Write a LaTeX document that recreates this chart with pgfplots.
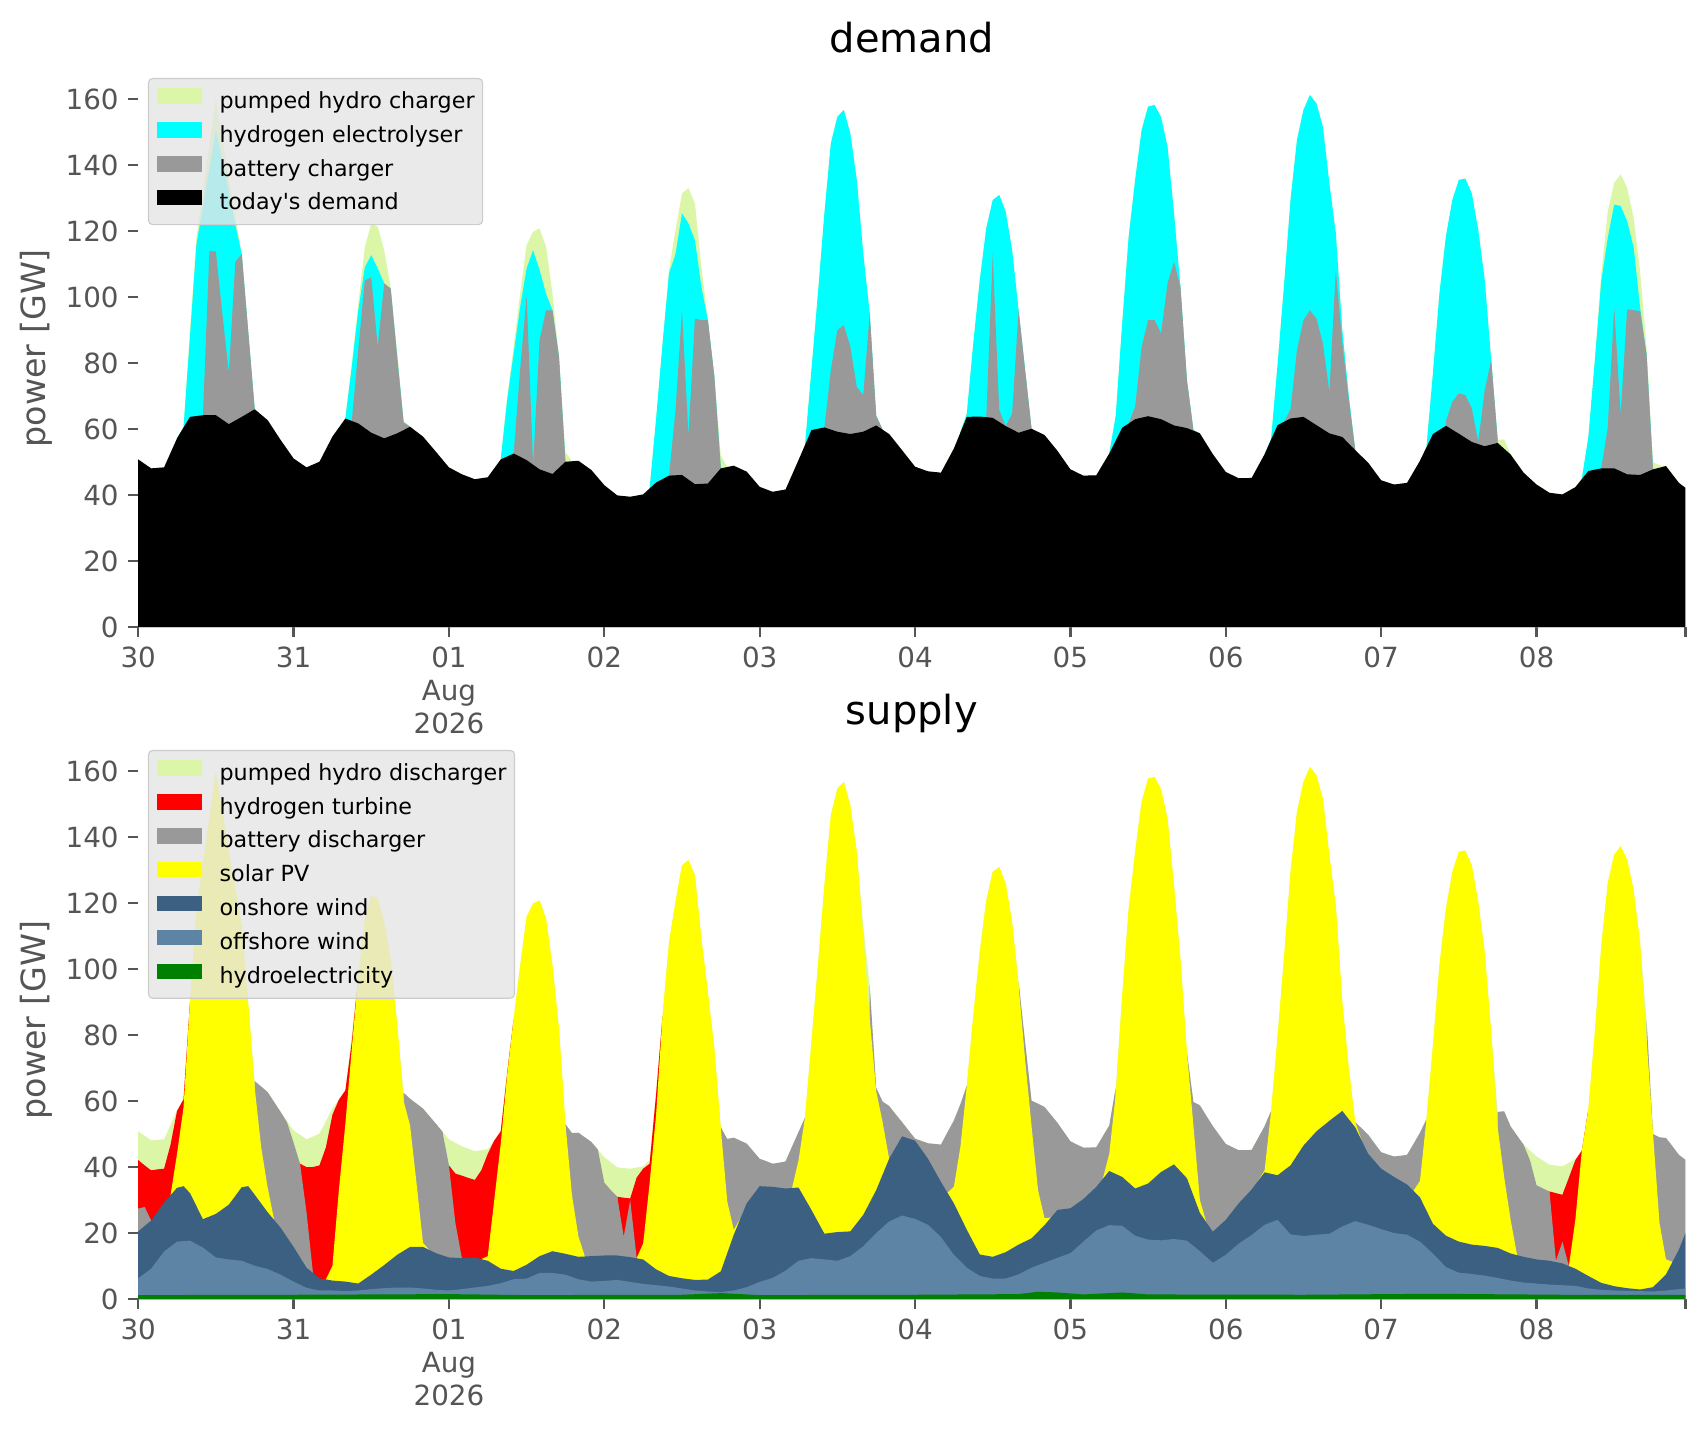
\documentclass[border=0pt]{standalone}
\usepackage{fontspec}
\setmainfont{DejaVu Sans}
\usepackage{pgfplots}
\pgfplotsset{compat=1.18}
\definecolor{phg}{RGB}{218,246,166}
\definecolor{cyn}{RGB}{0,255,255}
\definecolor{batt}{RGB}{153,153,153}
\definecolor{sol}{RGB}{255,255,0}
\definecolor{onw}{RGB}{59,96,130}
\definecolor{offw}{RGB}{93,131,165}
\definecolor{hydro}{RGB}{0,128,0}
\definecolor{tickgray}{RGB}{85,85,85}
\definecolor{leggray}{RGB}{229,229,229}
\definecolor{legedge}{RGB}{204,204,204}
\pgfplotsset{
  myaxis/.style={
    scale only axis, width=557pt, height=200.8pt,
    xmin=0, xmax=239, ymin=0, ymax=169,
    axis line style={draw=none},
    tick align=outside, tick pos=left,
    major tick length=3.5pt,
    every tick/.style={tickgray, line width=0.8pt},
    xtick={0,24,48,72,96,120,144,168,192,216,239},
    xticklabels={30,31,{01\\Aug\\2026},02,03,04,05,06,07,08,{}},
    ytick={0,20,40,60,80,100,120,140,160},
    /pgf/number format/assume math mode=true,
    ticklabel style={font=\fontsize{10}{12}\selectfont, text=tickgray},
    xticklabel style={align=center},
    every axis title/.style={at={(rel axis cs:0.5,1)}, anchor=base, yshift=6pt, font=\fontsize{14.4}{17}\selectfont},
    every axis y label/.style={at={(rel axis cs:-0.066,0.5)}, rotate=90, anchor=center, font=\fontsize{12}{14}\selectfont, text=tickgray},
    ylabel={power [GW]},
    legend style={at={(rel axis cs:0,1)}, anchor=north west, xshift=3.5pt, yshift=-3.1pt,
      fill=leggray, fill opacity=0.8, text opacity=1, draw=legedge, rounded corners=1.5pt,
      font=\fontsize{8}{9.6}\selectfont, inner xsep=2.9pt, inner ysep=3.5pt, row sep=3.2pt,
      nodes={inner sep=0pt, text height=6pt, text depth=1.8pt},
      /tikz/every odd column/.append style={column sep=6.5pt}},
    legend cell align=left,
    legend image code/.code={\fill[#1, fill opacity=1, sharp corners] (0pt,-0.5pt) rectangle (16.2pt,5.1pt);},
  }
}
\begin{document}
\begin{tikzpicture}
\useasboundingbox (0,0) rectangle (614.16pt,515.16pt);
% ================= DEMAND =================
\begin{axis}[myaxis, at={(49.75pt,289.4pt)}, anchor=south west, title={demand}]
% total (pumped hydro charger top)
\addplot[fill=phg, draw=none] coordinates {(0,50.8) (2,48.1) (4,48.4) (6,57.2) (7,60.5) (8,90) (9,118) (10,132) (11,146) (12,160) (13,147.6) (14,135.5) (15,124.6) (16,113) (17,89.5) (18,66) (20,62.7) (22,56.7) (24,51.1) (26,48.4) (28,50.1) (30,57.7) (32,63.2) (33,80) (34,98) (35,115) (36,122.3) (37,121.3) (38,114.2) (39,103) (40,83.5) (41,62.5) (42,60.7) (44,57.7) (46,53.1) (48,48.4) (50,46.3) (52,44.8) (54,45.4) (56,50.8) (57,69.8) (58,84.9) (59,101) (60,115.8) (61,119.8) (62,120.8) (63,115.3) (64,101) (65,81.9) (66,53) (67,50.3) (68,50.4) (70,47.6) (72,43) (74,39.9) (76,39.5) (78,40.2) (79,42) (80,63) (81,85.9) (82,108.2) (83,120.3) (84,131.4) (85,133) (86,128.4) (87,109.2) (88,93) (89,75.9) (90,52) (91,48.5) (92,48.9) (94,47.1) (96,42.5) (98,41) (100,41.7) (102,50.6) (103,55) (104,78) (105,101) (106,125.4) (107,146.6) (108,154.6) (109,156.7) (110,149.6) (111,135.5) (112,113.2) (113,95) (114,64) (115,59.8) (116,58.5) (118,53.6) (120,48.6) (122,47.2) (124,46.8) (126,54.1) (127,59) (128,64.7) (129,86) (130,105.1) (131,120.8) (132,129.4) (133,130.9) (134,125.9) (135,114.2) (136,96) (137,77.9) (138,60.1) (140,58.2) (142,53.4) (144,47.8) (146,45.9) (148,46) (150,52.6) (151,64) (152,92) (153,118.3) (154,135.5) (155,150.6) (156,157.7) (157,158.2) (158,154.5) (159,145.6) (160,125.4) (161,103) (162,74.8) (163,59.7) (164,58.7) (166,52.4) (168,47) (170,45.1) (172,45.2) (174,52.4) (175,57) (176,79.5) (177,103.6) (178,129.4) (179,147.6) (180,156.7) (181,161.2) (182,158.7) (183,151.6) (184,134.4) (185,119.3) (186,90) (187,70) (188,53.6) (190,49.8) (192,44.5) (194,43.2) (196,43.7) (198,50.4) (199,54.5) (200,76.9) (201,101) (202,118.3) (203,129.4) (204,135.5) (205,135.9) (206,131.4) (207,120.3) (208,105.1) (209,80.9) (210,56.7) (211,56.9) (212,52.3) (214,46.8) (216,43.2) (218,40.7) (220,40.2) (222,42.4) (223,45) (224,57.4) (225,80.6) (226,106.9) (227,126) (228,134.6) (229,137.2) (230,133.1) (231,124) (232,107.9) (233,84.6) (234,50) (235,49) (236,48.8) (238,43.7) (239,42.2)} \closedcycle;
\addlegendentry{pumped hydro charger}
% hydrogen electrolyser top
\addplot[fill=cyn, draw=none] coordinates {(0,0) (6,0) (6,57.2) (7,60.5) (8,88) (9,116) (10,127.4) (11,139) (12,150.6) (13,141.5) (14,132) (15,122) (16,113) (17,89.5) (18,66) (18,0)
(32,0) (32,63.2) (33,79) (34,96) (35,109) (36,112.7) (37,108.7) (38,104.1) (39,102.6) (40,82) (41,62) (42,60.7) (42,0)
(56,0) (56,50.8) (57,68.8) (58,82.9) (59,97) (60,108.7) (61,114.2) (62,108.2) (63,101) (64,96) (65,81.9) (66,50.1) (66,0)
(79,0) (79,42) (80,63) (81,85.9) (82,107.2) (83,113) (84,125.4) (85,122.3) (86,117.2) (87,103) (88,93) (89,75.9) (90,48.1) (90,0)
(103,0) (103,55) (104,78) (105,101) (106,125.4) (107,146.6) (108,154.6) (109,156.7) (110,149.6) (111,135.5) (112,113.2) (113,95) (114,64) (115,59.8) (115,0)
(127,0) (127,59) (128,64.7) (129,86) (130,105.1) (131,120.8) (132,129.4) (133,130.9) (134,125.9) (135,114.2) (136,96) (137,77.9) (138,60.1) (138,0)
(150,0) (150,52.6) (151,64) (152,92) (153,118.3) (154,135.5) (155,150.6) (156,157.7) (157,158.2) (158,154.5) (159,145.6) (160,125.4) (161,103) (162,74.8) (163,59.7) (164,58.7) (164,0)
(174,0) (174,52.4) (175,57) (176,79.5) (177,103.6) (178,129.4) (179,147.6) (180,156.7) (181,161.2) (182,158.7) (183,151.6) (184,134.4) (185,119.3) (186,90) (187,70) (188,53.6) (188,0)
(198,0) (198,50.4) (199,54.5) (200,76.9) (201,101) (202,118.3) (203,129.4) (204,135.5) (205,135.9) (206,131.4) (207,120.3) (208,105.1) (209,80.9) (210,56.7) (210,0)
(223,0) (223,45) (224,57.4) (225,80.6) (226,104.8) (227,117.9) (228,128) (229,127.6) (230,123) (231,115) (232,96.8) (233,82.6) (234,47.8) (234,0) (239,0)} \closedcycle;
\addlegendentry{hydrogen electrolyser}
% battery charger top
\addplot[fill=batt, draw=none] coordinates {(0,0) (10,0) (10,64.2) (11,114) (12,113.8) (13,95) (14,77) (15,110.7) (16,113) (17,89.5) (18,66) (18,0)
(33,0) (33,62.5) (34,84) (35,105) (36,106) (37,85) (38,104.1) (39,102.6) (40,82) (41,62) (42,60.7) (42,0)
(58,0) (58,52.6) (59,78) (60,100.5) (61,49.2) (62,87) (63,96) (64,96) (65,81.9) (66,50.1) (66,0)
(82,0) (82,45.9) (83,65.7) (84,96) (85,58) (86,93.5) (87,93) (88,93) (89,75.9) (90,48.1) (90,0)
(106,0) (106,60.5) (107,77.9) (108,90) (109,91.5) (110,85) (111,72.8) (112,70.3) (113,95) (114,64) (115,59.8) (115,0)
(131,0) (131,63.6) (132,113) (133,65.8) (134,60.9) (135,64.7) (136,96) (137,77.9) (138,60.1) (138,0)
(153,0) (153,61.7) (154,66.8) (155,84.9) (156,93) (157,93) (158,89) (159,104.1) (160,110.7) (161,103) (162,74.8) (163,59.7) (164,58.7) (164,0)
(177,0) (177,62.2) (178,66) (179,84) (180,93) (181,96) (182,93.5) (183,86) (184,71.3) (185,108.2) (186,86) (187,69) (188,53.6) (188,0)
(202,0) (202,62.3) (203,68.3) (204,70.8) (205,70.3) (206,66.3) (207,56.2) (208,71.8) (209,80.9) (210,56.7) (210,0)
(226,0) (226,48.1) (227,60.4) (228,96.8) (229,64.4) (230,96.3) (231,96) (232,95.8) (233,82.6) (234,47.8) (234,0) (239,0)} \closedcycle;
\addlegendentry{battery charger}
% today's demand
\addplot[fill=black, draw=none] coordinates {(0,50.8) (2,48.1) (4,48.4) (6,57.2) (8,63.7) (10,64.2) (12,64.2) (14,61.5) (16,63.7) (18,66) (20,62.7) (22,56.7) (24,51.1) (26,48.4) (28,50.1) (30,57.7) (32,63.2) (34,61.7) (36,58.9) (38,57.2) (40,58.7) (42,60.7) (44,57.7) (46,53.1) (48,48.4) (50,46.3) (52,44.8) (54,45.4) (56,50.8) (58,52.6) (60,50.6) (62,47.8) (64,46.4) (66,50.1) (68,50.4) (70,47.6) (72,43) (74,39.9) (76,39.5) (78,40.2) (80,43.8) (82,45.9) (84,46.1) (86,43.3) (88,43.5) (90,48.1) (92,48.9) (94,47.1) (96,42.5) (98,41) (100,41.7) (102,50.6) (104,59.7) (106,60.5) (108,59.2) (110,58.5) (112,59.2) (114,61.1) (116,58.5) (118,53.6) (120,48.6) (122,47.2) (124,46.8) (126,54.1) (128,63.7) (130,63.8) (132,63.4) (134,60.9) (136,58.9) (138,60.1) (140,58.2) (142,53.4) (144,47.8) (146,45.9) (148,46) (150,52.6) (152,60.4) (154,63) (156,63.9) (158,63) (160,61.1) (162,60.3) (164,58.7) (166,52.4) (168,47) (170,45.1) (172,45.2) (174,52.4) (176,61.2) (178,63.2) (180,63.7) (182,61.2) (184,58.7) (186,57.6) (188,53.6) (190,49.8) (192,44.5) (194,43.2) (196,43.7) (198,50.4) (200,58.5) (202,61) (204,58.6) (206,56.1) (208,54.8) (210,55.8) (212,52.3) (214,46.8) (216,43.2) (218,40.7) (220,40.2) (222,42.4) (224,47.3) (226,48.1) (228,48.1) (230,46.3) (232,46.1) (234,47.8) (236,48.8) (238,43.7) (239,42.2)} \closedcycle;
\addlegendentry{today\textquotesingle s demand}
\end{axis}
% ================= SUPPLY =================
\begin{axis}[myaxis, at={(49.75pt,47.5pt)}, anchor=south west, title={supply}]
% total (pumped hydro discharger top)
\addplot[fill=phg, draw=none] coordinates {(0,50.8) (2,48.1) (4,48.4) (6,57.2) (7,60.5) (8,90) (9,118) (10,132) (11,146) (12,160) (13,147.6) (14,135.5) (15,124.6) (16,113) (17,89.5) (18,66) (20,62.7) (22,56.7) (24,51.1) (26,48.4) (28,50.1) (30,57.7) (32,63.2) (33,80) (34,98) (35,115) (36,122.3) (37,121.3) (38,114.2) (39,103) (40,83.5) (41,62.5) (42,60.7) (44,57.7) (46,53.1) (48,48.4) (50,46.3) (52,44.8) (54,45.4) (56,50.8) (57,69.8) (58,84.9) (59,101) (60,115.8) (61,119.8) (62,120.8) (63,115.3) (64,101) (65,81.9) (66,53) (67,50.3) (68,50.4) (70,47.6) (72,43) (74,39.9) (76,39.5) (78,40.2) (79,42) (80,63) (81,85.9) (82,108.2) (83,120.3) (84,131.4) (85,133) (86,128.4) (87,109.2) (88,93) (89,75.9) (90,52) (91,48.5) (92,48.9) (94,47.1) (96,42.5) (98,41) (100,41.7) (102,50.6) (103,55) (104,78) (105,101) (106,125.4) (107,146.6) (108,154.6) (109,156.7) (110,149.6) (111,135.5) (112,113.2) (113,95) (114,64) (115,59.8) (116,58.5) (118,53.6) (120,48.6) (122,47.2) (124,46.8) (126,54.1) (127,59) (128,64.7) (129,86) (130,105.1) (131,120.8) (132,129.4) (133,130.9) (134,125.9) (135,114.2) (136,96) (137,77.9) (138,60.1) (140,58.2) (142,53.4) (144,47.8) (146,45.9) (148,46) (150,52.6) (151,64) (152,92) (153,118.3) (154,135.5) (155,150.6) (156,157.7) (157,158.2) (158,154.5) (159,145.6) (160,125.4) (161,103) (162,74.8) (163,59.7) (164,58.7) (166,52.4) (168,47) (170,45.1) (172,45.2) (174,52.4) (175,57) (176,79.5) (177,103.6) (178,129.4) (179,147.6) (180,156.7) (181,161.2) (182,158.7) (183,151.6) (184,134.4) (185,119.3) (186,90) (187,70) (188,53.6) (190,49.8) (192,44.5) (194,43.2) (196,43.7) (198,50.4) (199,54.5) (200,76.9) (201,101) (202,118.3) (203,129.4) (204,135.5) (205,135.9) (206,131.4) (207,120.3) (208,105.1) (209,80.9) (210,56.7) (211,56.9) (212,52.3) (214,46.8) (216,43.2) (218,40.7) (220,40.2) (222,42.4) (223,45) (224,57.4) (225,80.6) (226,106.9) (227,126) (228,134.6) (229,137.2) (230,133.1) (231,124) (232,107.9) (233,84.6) (234,50) (235,49) (236,48.8) (238,43.7) (239,42.2)} \closedcycle;
\addlegendentry{pumped hydro discharger}
% hydrogen turbine top
\addplot[fill=red, draw=none] coordinates {(0,0) (0,42.1) (1,40.5) (2,39) (3,39.3) (4,39.5) (5,46.8) (6,57) (7,60.5) (8,90) (8,0)
(25,0) (25,41) (26,40) (27,40) (28,40.5) (29,46) (30,55.8) (31,60.4) (32,63.2) (33,78) (34,98) (34,0)
(48,0) (48,40.5) (49,38) (50,37.4) (51,36.7) (52,36.1) (53,39) (54,44) (55,48) (56,50.8) (57,68.5) (58,84.9) (58,0)
(74,0) (74,31) (75,30.7) (76,30.5) (77,36.8) (78,39.5) (79,41) (80,62) (81,85.9) (81,0)
(218,0) (218,32.6) (219,32.1) (220,31.6) (221,36.8) (222,42.1) (223,45) (224,57.4) (224,0) (239,0)} \closedcycle;
\addlegendentry{hydrogen turbine}
% battery discharger top
\addplot[fill=batt, draw=none] coordinates {(0,0) (0,27.4) (1,27.9) (2,23.8) (2,0)
(18,0) (18,66) (19,64.4) (20,62.7) (21,59.7) (22,56.7) (23,53.5) (24,47.4) (25,41) (26,26.3) (27,7.9) (27,0)
(41,0) (41,62.5) (42,60.7) (43,59.2) (44,57.7) (45,55.4) (46,53.1) (47,50.7) (48,40.5) (49,23) (50,12.4) (50,0)
(66,0) (66,53) (67,50.3) (68,50.4) (69,49) (70,47.6) (71,45.3) (72,35.3) (73,33) (74,31) (75,18.9) (76,30) (77,12.4) (77,0)
(90,0) (90,52) (91,48.5) (92,48.9) (93,48) (94,47.1) (95,44.8) (96,42.5) (97,41.8) (98,41) (99,41.3) (100,41.7) (101,46.2) (102,50.6) (103,55) (103,0)
(113,0) (113,95) (114,64) (115,59.8) (116,58.5) (117,56) (118,53.6) (119,51.1) (120,48.6) (121,47.9) (122,47.2) (123,47) (124,46.8) (125,50.5) (126,54.1) (127,59) (128,64.7) (128,0)
(136,0) (136,96) (137,77.9) (138,60.1) (139,59.2) (140,58.2) (141,55.8) (142,53.4) (143,50.6) (144,47.8) (145,46.8) (146,45.9) (147,45.9) (148,46) (149,49.3) (150,52.6) (151,64) (151,0)
(162,0) (162,74.8) (163,59.7) (164,58.7) (165,55.5) (166,52.4) (167,49.7) (168,47) (169,46) (170,45.1) (171,45.1) (172,45.2) (173,48.8) (174,52.4) (175,57) (175,0)
(188,0) (188,53.6) (189,51.7) (190,49.8) (191,47.1) (192,44.5) (193,43.8) (194,43.2) (195,43.4) (196,43.7) (197,47) (198,50.4) (199,54.5) (199,0)
(210,0) (210,56.7) (211,56.9) (212,52.3) (213,49.5) (214,46.8) (215,42) (216,34.5) (217,33.5) (218,32.6) (219,11.6) (220,17.4) (221,10) (221,0)
(233,0) (233,84.6) (234,50) (235,49) (236,48.8) (237,46.3) (238,43.7) (239,42.2)} \closedcycle;
\addlegendentry{battery discharger}
% solar PV top
\addplot[fill=sol, draw=none] coordinates {(0,0) (5,0) (5,31.5) (6,44) (7,58) (8,90) (9,118) (10,132) (11,146) (12,160) (13,147.6) (14,135.5) (15,124.6) (16,113) (17,89.5) (18,64) (19,46) (20,33.7) (21,24) (21,0)
(29,0) (29,6) (30,10) (31,33) (32,53) (33,76) (34,98) (35,115) (36,122.3) (37,121.3) (38,114.2) (39,103) (40,83.5) (41,60) (42,52.6) (43,35) (44,17) (45,14.8) (45,0)
(53,0) (53,12.1) (54,13) (55,30) (56,47) (57,68) (58,84.9) (59,101) (60,115.8) (61,119.8) (62,120.8) (63,115.3) (64,101) (65,81.9) (66,53) (67,31.6) (68,19) (69,12.9) (69,0)
(77,0) (77,12.4) (78,16.8) (79,35) (80,55.8) (81,85.9) (82,108.2) (83,120.3) (84,131.4) (85,133) (86,128.4) (87,109.2) (88,93) (89,75.9) (90,51.6) (91,29.5) (92,21) (93,24.3) (93,0)
(101,0) (101,33.6) (102,42) (103,55) (104,78) (105,101) (106,125.4) (107,146.6) (108,154.6) (109,156.7) (110,149.6) (111,135.5) (112,110) (113,85) (114,63) (115,53.5) (116,42.5) (116,0)
(125,0) (125,32.2) (126,34) (127,46) (128,64.7) (129,86) (130,105.1) (131,120.8) (132,129.4) (133,130.9) (134,125.9) (135,114.2) (136,95) (137,72.6) (138,52.4) (139,33) (140,24.5) (141,24.7) (141,0)
(149,0) (149,36.4) (150,44) (151,62) (152,92) (153,118.3) (154,135.5) (155,150.6) (156,157.7) (157,158.2) (158,154.5) (159,145.6) (160,125.4) (161,103) (162,74.8) (163,52.6) (164,30) (165,23.2) (165,0)
(173,0) (173,35.8) (174,39) (175,57) (176,79.5) (177,103.6) (178,129.4) (179,147.6) (180,156.7) (181,161.2) (182,158.7) (183,151.6) (184,134.4) (185,119.3) (186,90) (187,70) (188,53.6) (189,48) (189,0)
(197,0) (197,32.8) (198,35.8) (199,54.5) (200,76.9) (201,101) (202,118.3) (203,129.4) (204,135.5) (205,135.9) (206,131.4) (207,120.3) (208,105.1) (209,80.9) (210,52) (211,37) (212,24) (213,13.3) (213,0)
(221,0) (221,10) (222,24) (223,45) (224,57.4) (225,80.6) (226,106.9) (227,126) (228,134.6) (229,137.2) (230,133.1) (231,124) (232,107.9) (233,78.9) (234,50) (235,23) (236,12) (237,11.3) (237,0) (239,0)} \closedcycle;
\addlegendentry{solar PV}
% onshore wind top
\addplot[fill=onw, draw=none] coordinates {(0,20.5) (2,23.8) (4,29.2) (6,33.7) (7,34.2) (8,32.1) (10,24.2) (12,25.8) (14,28.6) (16,33.9) (17,34.2) (18,31.6) (20,26.3) (22,21.6) (24,15.8) (26,9.5) (28,6.3) (30,5.6) (32,5.3) (34,4.7) (36,7.4) (38,10.3) (40,13.4) (42,15.8) (44,15.8) (46,13.9) (48,12.6) (50,12.4) (52,12.6) (54,11.6) (56,9.2) (58,8.5) (60,10.4) (62,13) (64,14.5) (66,13.7) (68,12.8) (70,13) (72,13.2) (74,13.2) (76,12.7) (78,12) (80,9) (82,7) (84,6.3) (86,5.8) (88,5.9) (90,8.4) (92,19.5) (94,29) (96,34.2) (98,34) (100,33.5) (102,33.8) (104,27) (106,19.8) (108,20.3) (110,20.5) (112,25.5) (114,33) (116,42.5) (118,49.3) (120,48) (122,42.5) (124,35.5) (126,29) (128,21) (130,13.5) (132,12.8) (134,14.2) (136,16.5) (138,18.4) (140,22.4) (142,27) (144,27.5) (146,30.3) (148,34) (150,38.8) (152,37) (154,33.5) (156,35) (158,38.5) (160,40.8) (162,36.6) (164,26.1) (166,20.4) (168,24) (170,29) (172,33.2) (174,38.4) (176,37.5) (178,40.5) (180,46.5) (182,50.8) (184,54) (186,57) (188,52) (190,44) (192,39.5) (194,37) (196,34.7) (198,30.8) (200,22.8) (202,19.2) (204,17.4) (206,16.5) (208,16.1) (210,15.5) (212,13.8) (214,12.8) (216,12) (218,11.6) (220,10.8) (222,9.2) (224,7) (226,4.9) (228,3.9) (230,3.3) (232,2.9) (234,3.6) (236,7.5) (238,15) (239,20)} \closedcycle;
\addlegendentry{onshore wind}
% offshore wind top
\addplot[fill=offw, draw=none] coordinates {(0,6.3) (2,9.2) (4,14.4) (6,17.4) (8,17.7) (10,15.6) (12,12.6) (14,12) (16,11.6) (18,10.1) (20,9.1) (22,7.4) (24,5.3) (26,3.4) (28,2.6) (30,2.6) (32,2.4) (34,2.6) (36,3) (38,3.3) (40,3.5) (42,3.5) (44,3.2) (46,2.8) (48,2.6) (50,3) (52,3.5) (54,4) (56,4.8) (58,6) (60,6.2) (62,7.9) (64,7.9) (66,7.4) (68,6) (70,5.3) (72,5.5) (74,5.8) (76,5.2) (78,4.6) (80,4.2) (82,3.8) (84,3.2) (86,2.6) (88,2.3) (90,2.1) (92,2.6) (94,3.6) (96,5.2) (98,6.4) (100,8.6) (102,11.6) (104,12.4) (106,12) (108,11.6) (110,13) (112,16) (114,20) (116,23.5) (118,25.3) (120,24.3) (122,22.5) (124,18.8) (126,13.4) (128,9.5) (130,7) (132,6.2) (134,6.2) (136,7.5) (138,9.5) (140,11) (142,12.5) (144,13.9) (146,17.4) (148,20.8) (150,22.4) (152,22.2) (154,19.2) (156,18) (158,17.8) (160,18.2) (162,17.7) (164,14.5) (166,11) (168,13.4) (170,16.8) (172,19.4) (174,22.5) (176,24) (178,19.6) (180,19.1) (182,19.5) (184,19.8) (186,22) (188,23.6) (190,22.5) (192,21.2) (194,20) (196,19.5) (198,17.4) (200,13.8) (202,9.7) (204,8) (206,7.6) (208,7.1) (210,6.4) (212,5.6) (214,5) (216,4.7) (218,4.4) (220,4.2) (222,4) (224,3.2) (226,2.8) (228,2.6) (230,2.5) (232,2.4) (234,2.3) (236,2.6) (238,3) (239,3.2)} \closedcycle;
\addlegendentry{offshore wind}
% hydroelectricity
\addplot[fill=hydro, draw=none] coordinates {(0,1.2) (24,1.3) (48,1.5) (60,1.2) (84,1.3) (90,1.8) (96,1.2) (120,1.3) (136,1.5) (139,2.2) (142,2) (146,1.4) (152,2) (156,1.4) (180,1.3) (200,1.6) (220,1.3) (239,1.3)} \closedcycle;
\addlegendentry{hydroelectricity}
\end{axis}
\end{tikzpicture}
\end{document}
